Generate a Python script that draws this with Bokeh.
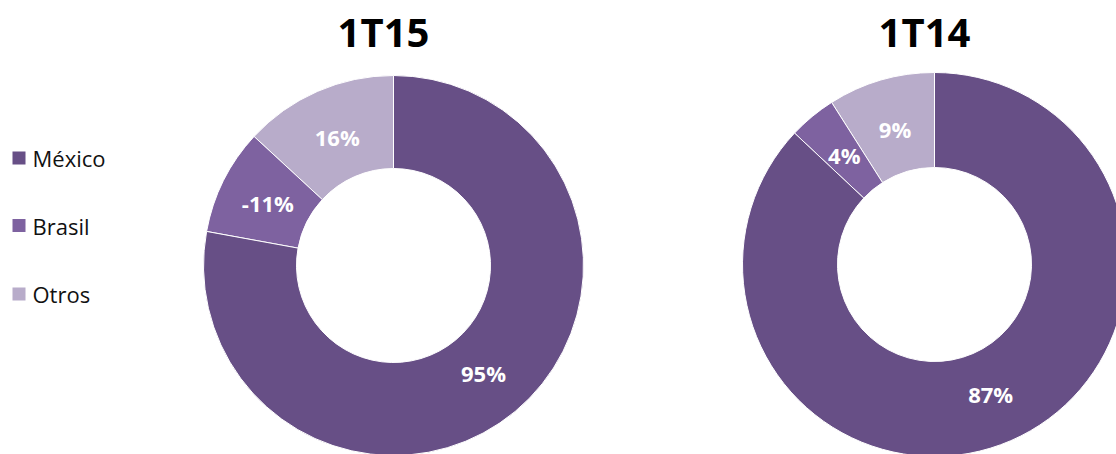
import math
from bokeh.plotting import figure
from bokeh.models import Range1d, ColumnDataSource
from bokeh.core.properties import value
from bokeh.embed import file_html
from bokeh.resources import INLINE

# ---- data ----
categories = ["México", "Brasil", "Otros"]
titles = ["1T15", "1T14"]
values_1t15 = [95, -11, 16]
values_1t14 = [87, 4, 9]
colors = ["#674F86", "#7E62A0", "#B8ACCA"]

W, H = 1116, 454
p = figure(width=W, height=H, output_backend="svg", toolbar_location=None,
           x_range=Range1d(0, W), y_range=Range1d(0, H), min_border=0)
p.axis.visible = False
p.grid.visible = False
p.outline_line_color = None
p.background_fill_color = "white"
p.border_fill_color = "white"

def Y(py):
    return H - py

def donut(cx, cy, r_in, r_out, vals, title):
    tot = sum(abs(v) for v in vals)
    spans = [abs(v) / tot * 2 * math.pi for v in vals]
    # order drawn anticlockwise from top: Otros, Brasil, México
    order = [2, 1, 0]
    start = math.pi / 2
    xs, ys, ss, es, cs, lx, ly, lt = [], [], [], [], [], [], [], []
    for i in order:
        end = start + spans[i]
        xs.append(cx); ys.append(Y(cy)); ss.append(start); es.append(end); cs.append(colors[i])
        mid = (start + end) / 2
        rl = (r_in + r_out) / 2 - 3
        lx.append(cx + rl * math.cos(mid)); ly.append(Y(cy) + rl * math.sin(mid))
        lt.append(f"{vals[i]}%")
        start = end
    src = ColumnDataSource(dict(x=xs, y=ys, s=ss, e=es, c=cs))
    p.annular_wedge(x="x", y="y", inner_radius=r_in, outer_radius=r_out,
                    start_angle="s", end_angle="e", fill_color="c",
                    line_color="white", line_width=1, source=src)
    p.text(x=lx, y=ly, text=lt, text_color="white", text_font=value("Open Sans"),
           text_font_style="bold", text_font_size="22px", text_align="center",
           text_baseline="middle")
    p.text(x=[cx - 10], y=[Y(31)], text=[title], text_color="black",
           text_font=value("Open Sans"), text_font_style="bold", text_font_size="40px",
           text_align="center", text_baseline="middle")

donut(393, 265, 97, 190, values_1t15, titles[0])
donut(934, 264, 97, 192, values_1t14, titles[1])

# legend
leg_y = [157.5, 225, 293.5]
p.rect(x=[18.5] * 3, y=[Y(v) for v in leg_y], width=13, height=13,
       fill_color=colors, line_color=None)
p.text(x=[32] * 3, y=[Y(v) for v in leg_y], text=categories, text_color="#111111",
       text_font=value("Open Sans"), text_font_size="22px", text_align="left",
       text_baseline="middle")

open("out.html", "w").write(file_html(p, INLINE))
